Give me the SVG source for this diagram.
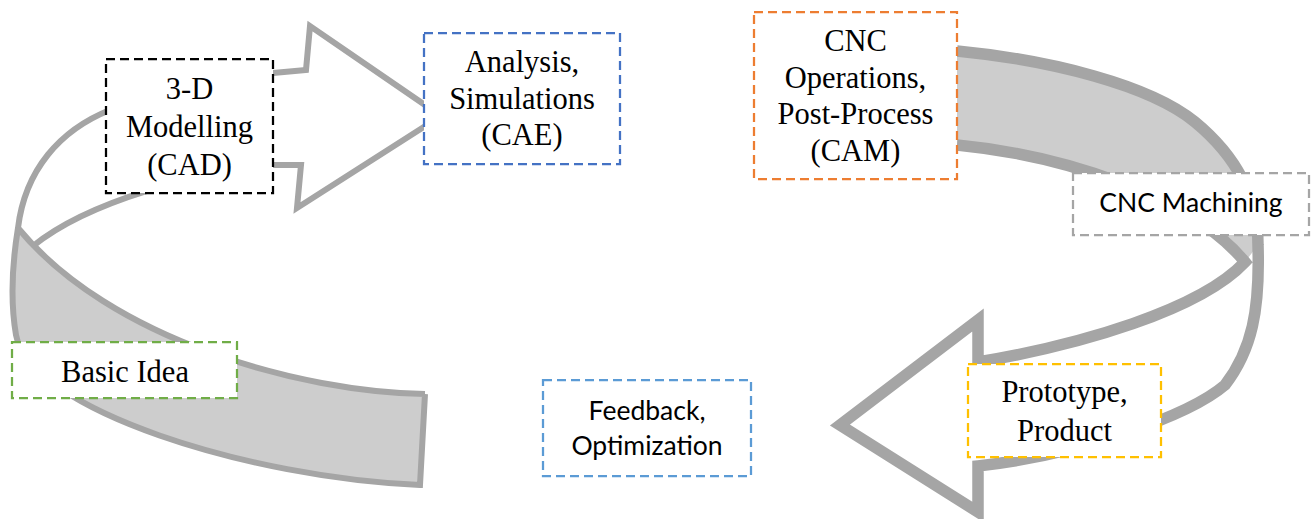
<svg xmlns="http://www.w3.org/2000/svg" width="1312" height="519" viewBox="0 0 1312 519">
<style>
.band{fill:#cdcdcd;stroke:none}
.front{fill:#ffffff;stroke:none}
.edge{fill:none;stroke:#a5a5a5;stroke-linejoin:miter;stroke-miterlimit:6}
.box{fill:#ffffff;stroke-width:2.25;stroke-dasharray:9 5}
.serif{font-family:"Liberation Serif","Times New Roman",serif;font-size:30.5px;fill:#000;text-anchor:middle}
.sans{font-family:Lato,"Liberation Sans",Arial,sans-serif;font-size:26.5px;fill:#000;text-anchor:middle}
</style>
<rect width="1312" height="519" fill="#ffffff"/>
<g id="connectors">
  <g id="left-curved-arrow">
    <path class="band" d="M420,485 C250,478 30,410 16,335 C10,300 12,265 18,228 C110,340 300,392 425,394 Z"/>
    <path class="front" d="M18,228 C25,170 60,130 110,110 C160,92 220,78 273,73 L306,70 L310,26 L441,116 L297,208 L301,165 L273,165 C200,172 90,200 33,246 Z"/>
    <path class="edge" stroke-width="6" d="M425,394 L420,485 C250,478 30,410 16,335 C10,300 12,265 18,228 C25,170 60,130 110,110 C160,92 220,78 273,73 L306,70 L310,26 L441,116 L297,208 L301,165 L273,165 C200,172 90,200 33,246 M425,394 C300,392 110,340 18,228"/>
  </g>
  <g id="right-curved-arrow">
    <path class="band" d="M957,51 C1050,60 1150,85 1195,122 C1235,155 1258,195 1258,245 L1258,262 L1245,262 C1190,195 1060,155 957,145 Z"/>
    <path class="front" d="M1258,245 C1260,310 1252,350 1225,385 C1190,415 1080,455 978,466 L978,512 L840,425 L978,320 L978,362 C1080,345 1200,310 1245,262 Z"/>
    <path class="edge" stroke-width="11.5" d="M957,51 C1050,60 1150,85 1195,122 C1235,155 1258,195 1258,245 C1260,310 1252,350 1225,385 C1190,415 1080,455 978,466 L978,512 L840,425 L978,320 L978,362 C1080,345 1200,310 1245,262 C1190,195 1060,155 957,145"/>
  </g>
</g>
<g id="node-cad">
  <rect class="box" stroke="#000000" x="106" y="59" width="167" height="134"/>
  <text class="serif" x="189.5" y="99">3-D</text>
  <text class="serif" x="189.5" y="137">Modelling</text>
  <text class="serif" x="189.5" y="175">(CAD)</text>
</g>
<g id="node-cae">
  <rect class="box" stroke="#4472c4" x="424" y="33" width="196" height="131"/>
  <text class="serif" x="522" y="72">Analysis,</text>
  <text class="serif" x="522" y="108.5">Simulations</text>
  <text class="serif" x="522" y="145">(CAE)</text>
</g>
<g id="node-cam">
  <rect class="box" stroke="#ed7d31" x="754" y="12" width="203" height="167"/>
  <text class="serif" x="855.5" y="51">CNC</text>
  <text class="serif" x="855.5" y="87.5">Operations,</text>
  <text class="serif" x="855.5" y="124">Post-Process</text>
  <text class="serif" x="855.5" y="161">(CAM)</text>
</g>
<g id="node-machining">
  <rect class="box" stroke="#a5a5a5" x="1073" y="173" width="236" height="62"/>
  <text class="sans" x="1191" y="212">CNC Machining</text>
</g>
<g id="node-prototype">
  <rect class="box" stroke="#ffc000" x="968" y="364" width="193" height="93"/>
  <text class="serif" x="1064.5" y="402">Prototype,</text>
  <text class="serif" x="1064.5" y="441">Product</text>
</g>
<g id="node-idea">
  <rect class="box" stroke="#70ad47" x="12" y="342" width="225" height="56"/>
  <text class="serif" x="125" y="382">Basic Idea</text>
</g>
<g id="node-feedback">
  <rect class="box" stroke="#5b9bd5" x="543" y="380" width="208" height="96"/>
  <text class="sans" x="647" y="420">Feedback,</text>
  <text class="sans" x="647" y="455">Optimization</text>
</g>
</svg>
